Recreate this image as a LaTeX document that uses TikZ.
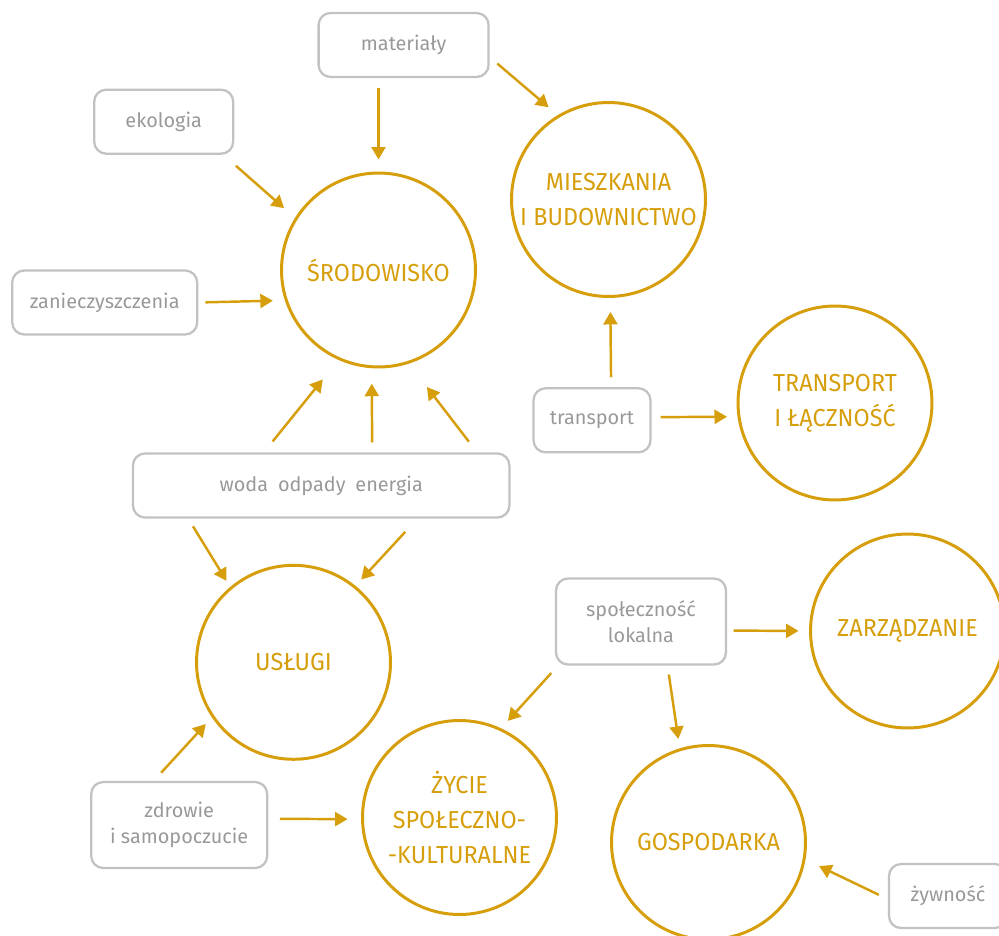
\documentclass[tikz,border=0pt]{standalone}
\usepackage{fontspec}
\setmainfont{Fira Sans}
\newfontfamily\hubfont[FakeStretch=0.95]{Fira Sans}
\usepackage{xcolor}
\usepackage{tikz}
\usetikzlibrary{arrows.meta,positioning,calc}
\definecolor{gold}{HTML}{D69E0A}
\definecolor{boxgray}{HTML}{C2C2C2}
\definecolor{labelgray}{HTML}{999999}

\begin{document}
\begin{tikzpicture}[x=0.02cm, y=-0.02cm,
    factor/.style={rectangle, draw=boxgray, line width=1.3pt, rounded corners=0.24cm, text=labelgray, align=center, minimum height=1.28cm, font=\fontsize{11.3}{15}\selectfont},
    hub/.style={circle, draw=gold, line width=1.7pt, minimum size=3.88cm, inner sep=0pt, text=gold, align=center, font=\hubfont\fontsize{14}{20}\selectfont},
    arrow/.style={-{Triangle[length=0.25cm,width=0.28cm]}, draw=gold, line width=1.4pt, shorten <=0.2cm, shorten >=0.24cm}
  ]
    \useasboundingbox (0,0) rectangle (999,935);
    \clip (0,0) rectangle (999,935);

    \node[hub] (srod) at (378.5,270) {ŚRODOWISKO};
    \node[hub] (mies) at (608.5,199.5) {MIESZKANIA\\I BUDOWNICTWO};
    \node[hub] (trans) at (835,403) {TRANSPORT\\I ŁĄCZNOŚĆ};
    \node[hub] (zarz) at (907.5,631) {ZARZĄDZANIE};
    \node[hub] (usl) at (293.5,662.3) {USŁUGI};
    \node[hub] (zycie) at (459.5,817.5) {ŻYCIE\\SPOŁECZNO-\\-KULTURALNE};
    \node[hub] (gosp) at (708.5,842.5) {GOSPODARKA};

    \node[factor, minimum width=3.40cm] (mat) at (403.6,45) {materiały};
    \node[factor, minimum width=2.78cm] (eko) at (163.7,121.7) {ekologia};
    \node[factor, minimum width=3.70cm] (zan) at (104.7,302.5) {zanieczyszczenia};
    \node[factor, minimum width=7.53cm] (woda) at (321.2,485.5) {woda\enspace odpady\enspace energia};
    \node[factor, minimum width=2.34cm] (tr) at (592,420.3) {transport};
    \node[factor, minimum width=3.40cm, minimum height=1.72cm] (spol) at (641,621.5) {społeczność\\lokalna};
    \node[factor, minimum width=3.52cm, minimum height=1.72cm] (zdr) at (179.2,825) {zdrowie\\i samopoczucie};
    \node[factor, minimum width=2.36cm] (zyw) at (948,896) {żywność};

    \draw[arrow] (mat.south -| srod.north) -- (srod.north);
    \draw[arrow] (mat.-8) -- (mies.121);
    \draw[arrow, shorten <=0.33cm, shorten >=0.29cm] (eko.-29) -- (srod.148);
    \draw[arrow, shorten <=0.14cm] (zan.east) -- (srod.198);
    \draw[arrow, shorten <=0.28cm, shorten >=0.5cm] (woda.150) -- (srod.246);
    \draw[arrow, shorten >=0.31cm] (woda.33) -- (srod.266);
    \draw[arrow, shorten <=0.27cm, shorten >=0.59cm] (woda.12) -- (srod.288);
    \draw[arrow, shorten <=0.18cm, shorten >=0.14cm] (woda.194) -- (usl.130);
    \draw[arrow, shorten <=0.36cm, shorten >=0.17cm] (woda.-19) -- (usl.51);
    \draw[arrow, shorten >=0.28cm] (tr.60) -- (mies.271);
    \draw[arrow, shorten <=0.18cm, shorten >=0.21cm] (tr.3) -- (trans.188);
    \draw[arrow, shorten <=0.13cm, shorten >=0.21cm] (spol.-6) -- (zarz.west);
    \draw[arrow, shorten >=0.2cm] (spol.208) -- (zycie.65);
    \draw[arrow, shorten <=0.18cm, shorten >=0.19cm] (spol.-59) -- (gosp.107);
    \draw[arrow, shorten <=0.22cm, shorten >=0.18cm] (zdr.120) -- (usl.214);
    \draw[arrow, shorten <=0.23cm, shorten >=0.27cm] (zdr.4) -- (zycie.181);
    \draw[arrow, shorten >=0.3cm] (zyw.183) -- (gosp.350);
  \end{tikzpicture}
\end{document}
